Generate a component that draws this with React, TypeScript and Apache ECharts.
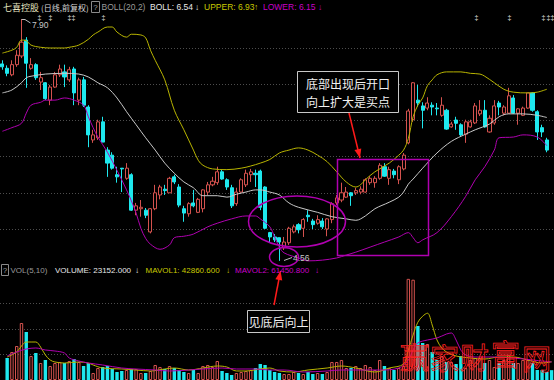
import React, { useEffect, useRef } from "react";
import * as echarts from "echarts";

// price candles: [open, close, low, high]
const candles: number[][] = [
  [7.28, 7.24, 7.2, 7.33], [7.22, 7.15, 7.11, 7.26], [7.13, 7.27, 7.11, 7.33], [7.27, 7.4, 7.24, 7.47],
  [7.39, 7.58, 7.36, 7.9], [7.61, 7.29, 6.95, 7.65], [7.22, 7.27, 7.2, 7.36], [7.27, 7.09, 7.06, 7.29],
  [7.03, 7.09, 6.92, 7.17], [7.02, 6.8, 6.78, 7.03], [6.78, 6.96, 6.71, 6.99], [6.96, 7.13, 6.95, 7.17],
  [7.13, 7.21, 7.1, 7.27], [7.17, 7.1, 6.96, 7.27], [7.06, 7.2, 7.03, 7.24], [7.21, 6.88, 6.71, 7.24],
  [6.78, 7.06, 6.71, 7.09], [7.06, 6.71, 6.685, 7.1], [6.685, 6.3, 6.13, 6.71], [6.23, 6.3, 6.19, 6.37],
  [6.26, 6.48, 6.23, 6.51], [6.48, 6.2, 6.2, 6.55], [6.09, 5.91, 5.72, 6.13], [6.02, 5.84, 5.82, 6.06],
  [5.75, 5.72, 5.64, 5.86], [5.84, 5.83, 5.51, 5.84], [5.7, 5.84, 5.68, 5.91], [5.75, 5.26, 5.25, 5.77],
  [5.26, 5.32, 5.19, 5.36], [5.28, 5.3, 5.17, 5.4], [5.26, 5.19, 5.15, 5.29], [4.96, 5.28, 4.94, 5.29],
  [5.28, 5.5, 5.26, 5.61], [5.47, 5.58, 5.41, 5.61], [5.55, 5.53, 5.47, 5.61], [5.5, 5.7, 5.5, 5.72],
  [5.72, 5.65, 5.62, 5.75], [5.58, 5.33, 5.3, 5.62], [5.28, 5.22, 5.1, 5.32], [5.21, 5.35, 5.17, 5.37],
  [5.36, 5.32, 5.3, 5.54], [5.23, 5.41, 5.22, 5.43], [5.28, 5.54, 5.23, 5.55], [5.51, 5.61, 5.47, 5.65],
  [5.61, 5.66, 5.59, 5.72], [5.64, 5.79, 5.61, 5.86], [5.79, 5.69, 5.68, 5.82], [5.68, 5.58, 5.54, 5.7],
  [5.57, 5.32, 5.29, 5.61], [5.35, 5.51, 5.32, 5.57], [5.51, 5.68, 5.5, 5.7], [5.61, 5.77, 5.58, 5.82],
  [5.75, 5.79, 5.65, 5.83], [5.77, 5.75, 5.58, 5.82], [5.8, 5.3, 5.26, 5.82], [5.58, 5.01, 5.0, 5.59],
  [4.95, 4.89, 4.82, 4.96], [4.89, 4.85, 4.82, 4.93], [4.88, 4.82, 4.56, 4.88], [4.74, 4.82, 4.71, 4.89],
  [4.81, 5.01, 4.78, 5.03], [4.96, 5.03, 4.94, 5.06], [5.06, 4.99, 4.94, 5.08], [5.01, 5.13, 4.89, 5.15],
  [5.19, 5.17, 5.1, 5.26], [5.11, 5.06, 5.0, 5.14], [5.08, 5.13, 5.06, 5.19], [5.11, 5.03, 5.0, 5.15],
  [5.0, 5.14, 4.9, 5.15], [5.13, 5.35, 5.08, 5.37], [5.36, 5.43, 5.33, 5.47], [5.4, 5.5, 5.37, 5.64],
  [5.44, 5.51, 5.43, 5.58], [5.5, 5.46, 5.32, 5.51], [5.5, 5.53, 5.47, 5.57], [5.51, 5.55, 5.48, 5.59],
  [5.51, 5.68, 5.5, 5.7], [5.64, 5.7, 5.61, 5.73], [5.64, 5.7, 5.57, 5.73], [5.7, 5.88, 5.68, 5.91],
  [5.86, 5.73, 5.72, 5.91], [5.7, 5.82, 5.61, 5.86], [5.8, 5.75, 5.7, 5.83], [5.68, 5.86, 5.62, 5.88],
  [5.83, 6.02, 5.81, 6.05], [6.19, 6.63, 6.17, 6.66], [6.51, 7.02, 6.48, 7.03], [6.78, 6.74, 6.69, 6.99],
  [6.7, 6.64, 6.39, 6.75], [6.67, 6.74, 6.64, 6.82], [6.71, 6.685, 6.57, 6.75], [6.67, 6.66, 6.57, 6.74],
  [6.57, 6.71, 6.55, 6.82], [6.64, 6.38, 6.37, 6.66], [6.41, 6.45, 6.4, 6.48], [6.505, 6.46, 6.37, 6.55],
  [6.44, 6.3, 6.285, 6.46], [6.31, 6.48, 6.19, 6.51], [6.41, 6.48, 6.4, 6.51], [6.465, 6.7, 6.45, 6.74],
  [6.59, 6.64, 6.56, 6.78], [6.64, 6.41, 6.4, 6.78], [6.34, 6.53, 6.33, 6.57], [6.465, 6.7, 6.44, 6.78],
  [6.74, 6.685, 6.57, 6.77], [6.6, 6.685, 6.57, 6.71], [6.6, 6.84, 6.59, 6.95], [6.81, 6.6, 6.59, 6.85],
  [6.6, 6.66, 6.44, 6.67], [6.57, 6.67, 6.56, 6.69], [6.67, 6.88, 6.66, 6.88], [6.88, 6.64, 6.62, 6.89],
  [6.62, 6.34, 6.23, 6.64], [6.4, 6.34, 6.27, 6.44], [6.23, 6.09, 6.06, 6.26],
];

// Bollinger band readings: [candle index, price]
const upperPts: number[][] = [
  [0, 7.43], [2, 7.47], [3, 7.51], [4, 7.61], [5, 7.6], [6, 7.54], [8, 7.51], [10, 7.5], [13, 7.5], [14, 7.51],
  [16, 7.54], [18, 7.62], [19, 7.68], [20, 7.72], [22, 7.79], [23, 7.79], [24, 7.72], [26, 7.65], [27, 7.69],
  [29, 7.68], [30, 7.64], [31, 7.47], [32, 7.33], [34, 7.06], [36, 6.64], [38, 6.37], [40, 6.09], [41, 5.95],
  [42, 5.88], [44, 5.83], [47, 5.82], [50, 5.84], [52, 5.87], [54, 5.91], [56, 5.96], [58, 6.05], [60, 6.09],
  [62, 6.12], [64, 6.09], [66, 6.02], [68, 5.93], [70, 5.79], [72, 5.65], [74, 5.58], [75, 5.61], [76, 5.68],
  [78, 5.79], [81, 5.91], [83, 6.02], [84, 6.09], [85, 6.25], [86, 6.55], [87, 6.71], [88, 6.81], [89, 6.98],
  [90, 7.06], [91, 7.13], [93, 7.17], [96, 7.17], [98, 7.15], [100, 7.14], [101, 7.11], [103, 7.02],
  [105, 6.93], [107, 6.89], [110, 6.88], [112, 6.89], [114, 6.93],
];
const midPts: number[][] = [
  [0, 6.88], [2, 6.92], [4, 7.02], [5, 7.09], [6, 7.11], [9, 7.14], [13, 7.15], [16, 7.14], [18, 7.1],
  [20, 7.02], [22, 6.95], [24, 6.81], [26, 6.62], [28, 6.44], [30, 6.26], [32, 6.09], [34, 5.91], [36, 5.77],
  [38, 5.65], [40, 5.57], [42, 5.46], [45, 5.46], [47, 5.44], [49, 5.48], [51, 5.51], [53, 5.54], [54, 5.54],
  [56, 5.51], [58, 5.47], [60, 5.36], [62, 5.3], [66, 5.23], [69, 5.17], [72, 5.14], [74, 5.12], [76, 5.18],
  [78, 5.28], [81, 5.37], [83, 5.44], [84, 5.51], [85, 5.62], [86, 5.69], [88, 5.84], [91, 6.05], [94, 6.21],
  [97, 6.31], [99, 6.37], [102, 6.45], [104, 6.55], [106, 6.59], [109, 6.59], [112, 6.57], [114, 6.54],
];
const lowerPts: number[][] = [
  [0, 6.35], [2, 6.4], [4, 6.46], [5, 6.6], [6, 6.71], [8, 6.75], [9, 6.78], [11, 6.78], [13, 6.81], [15, 6.78],
  [17, 6.71], [18, 6.55], [19, 6.4], [20, 6.27], [22, 6.06], [24, 5.81], [26, 5.54], [27, 5.39], [28, 5.22],
  [29, 5.01], [30, 4.87], [31, 4.79], [33, 4.72], [35, 4.78], [36, 4.88], [38, 4.9], [40, 4.93], [43, 5.03],
  [45, 5.08], [48, 5.14], [51, 5.18], [53, 5.18], [54, 5.14], [56, 5.03], [57, 4.89], [58, 4.75], [59, 4.67],
  [62, 4.6], [64, 4.56], [67, 4.57], [70, 4.6], [72, 4.64], [74, 4.68], [77, 4.75], [80, 4.82], [83, 4.89],
  [85, 4.95], [86, 4.88], [87, 4.81], [88, 4.85], [91, 4.95], [94, 5.17], [97, 5.45], [99, 5.68], [101, 5.86],
  [103, 6.09], [104, 6.26], [107, 6.27], [109, 6.3], [112, 6.27], [114, 6.15],
];

// volume per candle index (candle 0's bar is outside the window)
const volumes: (number | null)[] = [
  null, 51800, 65900, 80000, 134100, 112900, 56500, 63500, 40000, 47100, 32900, 40000, 42400, 40000, 44700,
  49400, 42400, 32900, 40000, 16500, 28200, 30600, 32900, 25900, 18800, 21200, 23500, 25900, 25900, 16500,
  16500, 21200, 35300, 30600, 25900, 32900, 28200, 23500, 18800, 16500, 23500, 16500, 32900, 35300, 30600,
  44700, 21200, 16500, 11800, 16500, 18800, 21200, 23500, 28200, 37600, 35300, 23500, 18800, 16500, 14100,
  14100, 18800, 16500, 14100, 18800, 14100, 16500, 14100, 18800, 42400, 42400, 47100, 28200, 28200, 32900,
  28200, 35300, 30600, 23500, 47100, 32900, 28200, 23500, 28200, 32900, 238000, 236000, 127100, 87100,
  84700, 65900, 47100, 56500, 42400, 42400, 37600, 56500, 28200, 47100, 51800, 51800, 40000, 47100, 30600,
  40000, 47100, 58800, 40000, 40000, 47100, 47100, 40000, 23500, 23500, 18800, 23152,
];
const lastVolumeUp = false;

// volume moving averages: [candle index, volume]
const mavol1Pts: number[][] = [
  [1, 54100], [3, 65900], [4, 80000], [5, 89400], [7, 89400], [8, 77600], [9, 58800], [10, 47100], [11, 42400],
  [13, 40000], [16, 42400], [18, 40000], [19, 35300], [21, 28200], [25, 25900], [28, 23500], [31, 21200],
  [34, 25900], [36, 28200], [39, 23500], [42, 28200], [45, 32900], [47, 30600], [49, 21200], [51, 21200],
  [54, 25900], [56, 28200], [58, 21200], [61, 18800], [64, 23500], [68, 28200], [71, 32900], [74, 28200],
  [78, 18800], [81, 28200], [84, 37600], [85, 70600], [86, 105900], [87, 136000], [88, 150100], [89, 157200],
  [90, 129400], [91, 94100], [92, 75300], [93, 65900], [95, 56500], [98, 51800], [101, 49400], [104, 54100],
  [107, 54100], [110, 47100], [113, 40000], [115, 42860],
];
const mavol2Pts: number[][] = [
  [1, 56500], [3, 65900], [5, 72900], [7, 75300], [9, 70600], [11, 68200], [13, 63500], [14, 51800],
  [16, 44700], [18, 40000], [21, 35300], [25, 28200], [28, 25900], [32, 23500], [35, 21200], [39, 23500],
  [42, 25900], [46, 28200], [49, 25900], [53, 25900], [56, 23500], [59, 23500], [63, 18800], [68, 21200],
  [71, 23500], [75, 23500], [79, 23500], [83, 28200], [85, 47100], [86, 70600], [87, 87100], [89, 94100],
  [91, 98800], [93, 108200], [94, 110600], [95, 94100], [96, 70600], [97, 58800], [99, 54100], [103, 54100],
  [107, 51800], [111, 47100], [115, 42400],
];

const RED = "#d4524e";
const CYAN = "#1ee8ee";
const BG = "#000000";
const N = 116;
const GRID_W = 558.8;
const BAND = GRID_W / N;
const FONT = '"Liberation Sans", "Noto Sans CJK SC", sans-serif';
const CJK = '"Noto Sans CJK SC", sans-serif';

function txt(x: number, y: number, text: string, fill: string, size = 9, family = FONT, extra: any = {}) {
  return {
    type: "text",
    x,
    y,
    z: 100,
    style: { text, fill, font: `${size}px ${family}`, textVerticalAlign: "middle", verticalAlign: "middle", ...extra },
  };
}

function arrowHead(tip: number[], from: number[], len: number, half: number) {
  const dx = tip[0] - from[0];
  const dy = tip[1] - from[1];
  const d = Math.hypot(dx, dy);
  const ux = dx / d;
  const uy = dy / d;
  const bx = tip[0] - ux * len;
  const by = tip[1] - uy * len;
  return [tip, [bx - uy * half, by + ux * half], [bx + uy * half, by - ux * half]];
}

export default function App() {
  const ref = useRef<HTMLDivElement>(null);
  useEffect(() => {
    if (!ref.current) return;
    const chart = echarts.init(ref.current, undefined, { renderer: "svg" });
    const cats = Array.from({ length: N }, (_, i) => String(i));
    const grid = { color: "#4d4d4d", type: [1, 2], width: 1 };
    const hideAxis = {
      axisLine: { show: false },
      axisTick: { show: false },
      axisLabel: { show: false },
    };
    const volData = volumes.map((v, i) => {
      if (v == null) return null;
      const up = i < candles.length ? candles[i][1] >= candles[i][0] : lastVolumeUp;
      return {
        value: v,
        itemStyle: up ? { color: BG, borderColor: RED, borderWidth: 1 } : { color: CYAN },
      };
    });
    const arrow1From = [349, 113];
    const arrow1Tip = [360, 158];
    const arrow2From = [274, 305];
    const arrow2Tip = [280.5, 271];
    const markers = [39, 50, 69, 73, 103, 476, 509, 543, 548, 552];
    const wm = [
      ["赢", 400, 356],
      ["家", 430, 357],
      ["财", 460, 356],
      ["富", 491, 353],
      ["网", 522, 357],
    ];

    chart.setOption({
      backgroundColor: BG,
      animation: false,
      grid: [
        { left: 0, top: 11.8, width: GRID_W, height: 253.4 },
        { left: -BAND, top: 278, width: GRID_W, height: 102 },
      ],
      xAxis: [
        { type: "category", gridIndex: 0, data: cats, show: false },
        { type: "category", gridIndex: 1, data: cats, show: false },
      ],
      yAxis: [
        {
          type: "value", gridIndex: 0, min: 4.5, max: 8.0, interval: 0.5, ...hideAxis,
          splitLine: { show: true, showMinLine: false, showMaxLine: false, lineStyle: grid },
        },
        {
          type: "value", gridIndex: 1, min: 0, max: 240000, interval: 60000, ...hideAxis,
          splitLine: { show: true, showMinLine: false, showMaxLine: false, lineStyle: grid },
        },
      ],
      series: [
        {
          type: "candlestick",
          xAxisIndex: 0,
          yAxisIndex: 0,
          data: candles,
          barWidth: 3.6,
          itemStyle: { color: BG, color0: CYAN, borderColor: RED, borderColor0: CYAN, borderWidth: 1 },
        },
        { type: "line", xAxisIndex: 0, yAxisIndex: 0, data: upperPts, smooth: 0.35, symbol: "none", lineStyle: { color: "#b8b400", width: 1 } },
        { type: "line", xAxisIndex: 0, yAxisIndex: 0, data: midPts, smooth: 0.35, symbol: "none", lineStyle: { color: "#c8c8c8", width: 1 } },
        { type: "line", xAxisIndex: 0, yAxisIndex: 0, data: lowerPts, smooth: 0.35, symbol: "none", lineStyle: { color: "#b000b0", width: 1 } },
        { type: "bar", xAxisIndex: 1, yAxisIndex: 1, data: volData, barWidth: 3.4 },
        { type: "line", xAxisIndex: 1, yAxisIndex: 1, data: mavol1Pts, smooth: 0.35, symbol: "none", lineStyle: { color: "#b8b400", width: 1 } },
        { type: "line", xAxisIndex: 1, yAxisIndex: 1, data: mavol2Pts, smooth: 0.35, symbol: "none", lineStyle: { color: "#b000b0", width: 1 } },
      ],
      graphic: [
        // header
        txt(3, 7, "七喜控股", "#e6e6c0", 9, CJK),
        txt(41, 7, "(日线,前复权)", "#d8d8d8", 8, CJK),
        { type: "rect", z: 100, shape: { x: 91.5, y: 1.5, width: 8, height: 11 }, style: { fill: "none", stroke: "#8a8a8a", lineWidth: 1 } },
        txt(93.3, 7.3, "?", "#a0a0a0", 8),
        txt(101.5, 7, "BOLL(20,2)", "#9a9a9a", 8.5),
        txt(150, 7, "BOLL: 6.54", "#e8e8e8", 8.5),
        txt(195, 7, "↓", "#e8e8e8", 8.5),
        txt(204, 7, "UPPER: 6.93", "#c8c800", 8.5),
        txt(254, 7, "↑", "#c8c800", 8.5),
        txt(263, 7, "LOWER: 6.15", "#c800c8", 8.5),
        txt(318, 7, "↓", "#c800c8", 8.5),
        ...markers.map((x) => txt(x - 1.5, 17, "‡", "#e0e0e0", 7)),
        // high / low marks
        { type: "polyline", z: 100, shape: { points: [[21.5, 19.5], [25, 19.5], [30.5, 23]] }, style: { stroke: "#bdbdbd", lineWidth: 1, fill: "none" } },
        txt(32, 24.5, "7.90", "#c8c8c8", 8.5),
        { type: "polyline", z: 100, shape: { points: [[284, 260.5], [292, 257.5]] }, style: { stroke: "#bdbdbd", lineWidth: 1, fill: "none" } },
        txt(293, 258, "4.56", "#c8c8c8", 8.5),
        // annotations
        { type: "ellipse", z: 100, shape: { cx: 297, cy: 221.5, rx: 48.5, ry: 25.5 }, style: { fill: "none", stroke: "#b000b0", lineWidth: 1.5 } },
        { type: "ellipse", z: 100, shape: { cx: 284, cy: 257, rx: 14.5, ry: 9.5 }, style: { fill: "none", stroke: "#b000b0", lineWidth: 1.5 } },
        { type: "rect", z: 100, shape: { x: 337.5, y: 159.5, width: 91, height: 96 }, style: { fill: "none", stroke: "#b000b0", lineWidth: 1.5 } },
        { type: "rect", z: 100, shape: { x: 297.5, y: 71.5, width: 101, height: 41 }, style: { fill: BG, stroke: "#c8c8c8", lineWidth: 1 } },
        txt(348, 83.5, "底部出现后开口", "#f0f0f0", 12, CJK, { textAlign: "center", align: "center" }),
        txt(348, 101.5, "向上扩大是买点", "#f0f0f0", 12, CJK, { textAlign: "center", align: "center" }),
        { type: "polyline", z: 100, shape: { points: [arrow1From, arrow1Tip] }, style: { stroke: "#ff1a1a", lineWidth: 1.5, fill: "none" } },
        { type: "polygon", z: 100, shape: { points: arrowHead(arrow1Tip, arrow1From, 9, 3.5) }, style: { fill: "#ff1a1a" } },
        { type: "rect", z: 100, shape: { x: 247.5, y: 310.5, width: 62, height: 22 }, style: { fill: BG, stroke: "#c8c8c8", lineWidth: 1 } },
        txt(278.5, 321.5, "见底后向上", "#f0f0f0", 12, CJK, { textAlign: "center", align: "center" }),
        { type: "polyline", z: 100, shape: { points: [arrow2From, arrow2Tip] }, style: { stroke: "#ff1a1a", lineWidth: 1.5, fill: "none" } },
        { type: "polygon", z: 100, shape: { points: arrowHead(arrow2Tip, arrow2From, 9, 3.5) }, style: { fill: "#ff1a1a" } },
        // volume header
        { type: "rect", z: 100, shape: { x: 1.5, y: 264.5, width: 7, height: 11 }, style: { fill: "none", stroke: "#8a8a8a", lineWidth: 1 } },
        txt(2.8, 270.5, "?", "#a0a0a0", 8),
        txt(10.5, 270.5, "VOL(5,10)", "#9a9a9a", 8),
        txt(55, 270.5, "VOLUME: 23152.000", "#e8e8e8", 8),
        txt(135, 270.5, "↓", "#e8e8e8", 8),
        txt(145.5, 270.5, "MAVOL1: 42860.600", "#c8c800", 8),
        txt(226, 270.5, "↓", "#c8c800", 8),
        txt(235, 270.5, "MAVOL2: 61450.800", "#c800c8", 8),
        txt(315, 270.5, "↓", "#c800c8", 8),
        // watermark
        ...wm.map(([t, x, y]) =>
          txt(x as number, y as number, t as string, "rgba(0,0,0,0)", 29, CJK, { stroke: "#ff2020", lineWidth: 0.8 })
        ),
      ],
    });
    return () => chart.dispose();
  }, []);
  return (
    <div
      ref={ref}
      style={{ position: "fixed", left: 0, top: 0, width: 554, height: 380, background: BG }}
    />
  );
}
